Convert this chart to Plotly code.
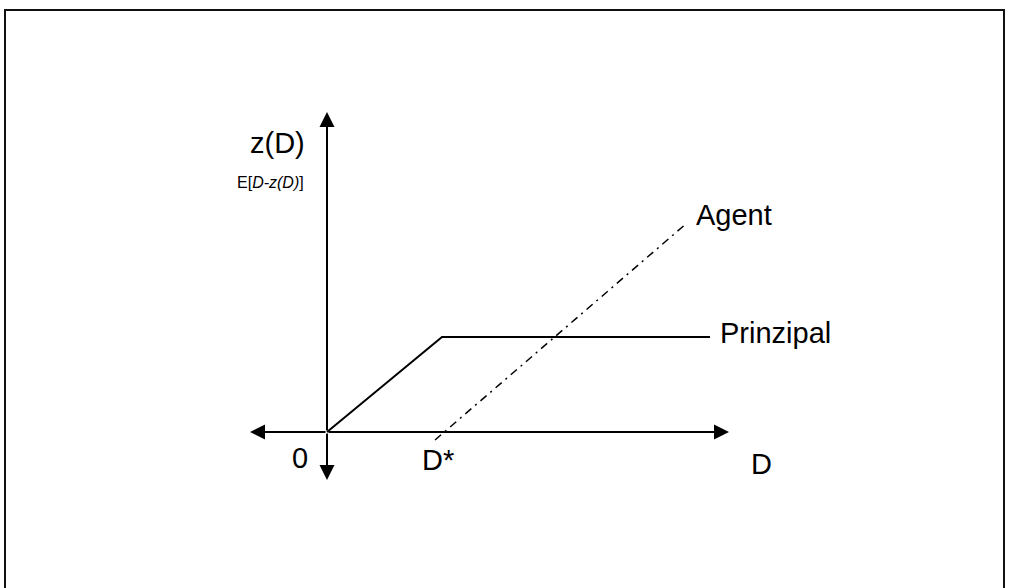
import plotly.graph_objects as go

# ---- data (model units: origin where the axes cross, D to the right, z upward) ----
axis_d_ends = [-0.77, 4.02]          # horizontal axis: left and right arrow tips
axis_z_ends = [-0.48, 3.20]          # vertical axis: lower and upper arrow tips
principal_d = [0.0, 1.15, 3.83]
principal_z = [0.0, 0.95, 0.95]
agent_d = [1.08, 3.60]
agent_z = [-0.08, 2.09]
d_star = 1.08

axis_label_y = ["z(D)", "E[<i>D-z(D)</i>]"]
axis_label_x = "D"
origin_label = "0"
d_star_label = "D*"
series_names = ["Prinzipal", "Agent"]

FONT = "Arial, 'Liberation Sans', sans-serif"
BLACK = "#000000"

fig = go.Figure()

fig.add_trace(go.Scatter(
    x=principal_d, y=principal_z, mode="lines", name=series_names[0],
    line=dict(color=BLACK, width=2), hoverinfo="skip", showlegend=False))
fig.add_trace(go.Scatter(
    x=agent_d, y=agent_z, mode="lines", name=series_names[1],
    line=dict(color=BLACK, width=1.5, dash="8px,5px,2px,5px"),
    hoverinfo="skip", showlegend=False))

# axes drawn as arrows from the origin
arrow_tips = [(axis_d_ends[1], 0), (axis_d_ends[0], 0), (0, axis_z_ends[1]), (0, axis_z_ends[0])]
for tx, ty in arrow_tips:
    fig.add_annotation(x=tx, y=ty, ax=0, ay=0, xref="x", yref="y", axref="x", ayref="y",
                       text="", showarrow=True, arrowhead=2, arrowsize=1.5,
                       arrowwidth=2, arrowcolor=BLACK, standoff=0, startstandoff=0)

def label(x, y, text, size, xanchor="center", xshift=0, yshift=0):
    fig.add_annotation(x=x, y=y, xref="x", yref="y", text=text, showarrow=False,
                       xanchor=xanchor, yanchor="middle", xshift=xshift, yshift=yshift,
                       font=dict(family=FONT, size=size, color=BLACK))

label(0, axis_z_ends[1], axis_label_y[0], 29, xanchor="right", xshift=-20, yshift=-31)
label(0, axis_z_ends[1], axis_label_y[1], 16, xanchor="right", xshift=-21, yshift=-70)
label(agent_d[-1], agent_z[-1], series_names[1], 29, xanchor="left", xshift=7, yshift=8)
label(principal_d[-1], principal_z[-1], series_names[0], 29, xanchor="left", xshift=8, yshift=4)
label(0, 0, origin_label, 29, xshift=-27, yshift=-26)
label(d_star, 0, d_star_label, 29, xshift=3, yshift=-28)
label(axis_d_ends[1], 0, axis_label_x, 29, xshift=32, yshift=-32)

# frame around the drawing
fig.add_shape(type="rect", xref="paper", yref="paper",
              x0=5 / 1010, x1=1004 / 1010, y0=-0.05, y1=1 - 10 / 588,
              line=dict(color="#111111", width=2), layer="above")

fig.update_xaxes(range=[-3.27, 6.83], visible=False, fixedrange=True)
fig.update_yaxes(range=[-1.56, 4.32], visible=False, fixedrange=True)
fig.update_layout(width=1010, height=588, margin=dict(l=0, r=0, t=0, b=0),
                  paper_bgcolor="white", plot_bgcolor="white", showlegend=False)

fig.write_html("out.html", config={"staticPlot": True},
               post_script="document.body.style.margin='0';document.body.style.overflow='hidden';")
